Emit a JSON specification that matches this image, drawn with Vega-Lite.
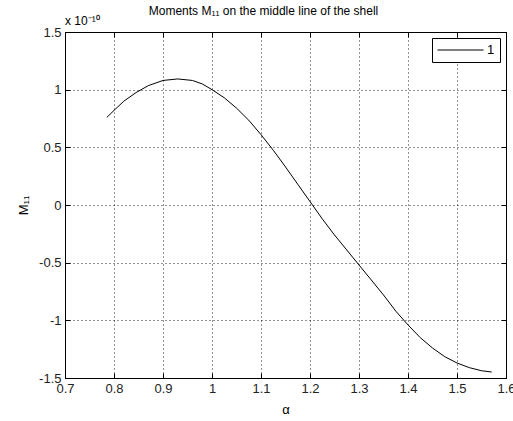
{
  "$schema": "https://vega.github.io/schema/vega-lite/v6.json",
  "width": 441,
  "height": 346,
  "autosize": {"type": "none"},
  "padding": {"left": 65, "top": 32, "right": 7, "bottom": 43},
  "background": "white",
  "config": {
    "font": "Liberation Sans",
    "view": {"stroke": "black", "strokeWidth": 1},
    "axis": {
      "domain": false,
      "grid": true,
      "gridColor": "black",
      "gridDash": [1, 3],
      "gridOpacity": 0.85,
      "tickColor": "black",
      "tickSize": -5,
      "labelPadding": 9,
      "labelFontSize": 13,
      "labelColor": "#222222",
      "labelFont": "Liberation Sans",
      "titleFont": "Liberation Sans",
      "titleFontSize": 13,
      "titleFontWeight": "normal",
      "titleColor": "black",
      "labelFlush": false,
      "labelOverlap": false
    },
    "legend": {
      "orient": "top-right",
      "offset": 6,
      "strokeColor": "black",
      "fillColor": "white",
      "padding": 5,
      "cornerRadius": 0,
      "symbolType": "stroke",
      "symbolSize": 2116,
      "symbolStrokeWidth": 1,
      "symbolStrokeColor": "black",
      "clipHeight": 14,
      "labelFontSize": 13,
      "labelFont": "Liberation Sans",
      "labelColor": "black",
      "labelOffset": 3
    }
  },
  "title": {
    "text": "Moments M₁₁ on the middle line of the shell",
    "font": "Liberation Sans",
    "fontSize": 12,
    "fontWeight": "normal",
    "color": "black",
    "anchor": "middle",
    "dx": -22,
    "offset": -3
  },
  "layer": [
    {
      "data": {
        "values": [
          {"alpha": 0.7854, "M": 0.76, "series": "1"},
          {"alpha": 0.80, "M": 0.82, "series": "1"},
          {"alpha": 0.82, "M": 0.90, "series": "1"},
          {"alpha": 0.845, "M": 0.975, "series": "1"},
          {"alpha": 0.87, "M": 1.035, "series": "1"},
          {"alpha": 0.90, "M": 1.08, "series": "1"},
          {"alpha": 0.93, "M": 1.093, "series": "1"},
          {"alpha": 0.96, "M": 1.08, "series": "1"},
          {"alpha": 0.98, "M": 1.05, "series": "1"},
          {"alpha": 1.00, "M": 1.00, "series": "1"},
          {"alpha": 1.025, "M": 0.93, "series": "1"},
          {"alpha": 1.05, "M": 0.84, "series": "1"},
          {"alpha": 1.075, "M": 0.735, "series": "1"},
          {"alpha": 1.10, "M": 0.61, "series": "1"},
          {"alpha": 1.125, "M": 0.475, "series": "1"},
          {"alpha": 1.15, "M": 0.33, "series": "1"},
          {"alpha": 1.175, "M": 0.18, "series": "1"},
          {"alpha": 1.20, "M": 0.03, "series": "1"},
          {"alpha": 1.225, "M": -0.12, "series": "1"},
          {"alpha": 1.25, "M": -0.26, "series": "1"},
          {"alpha": 1.275, "M": -0.39, "series": "1"},
          {"alpha": 1.30, "M": -0.52, "series": "1"},
          {"alpha": 1.325, "M": -0.65, "series": "1"},
          {"alpha": 1.35, "M": -0.78, "series": "1"},
          {"alpha": 1.375, "M": -0.92, "series": "1"},
          {"alpha": 1.40, "M": -1.04, "series": "1"},
          {"alpha": 1.425, "M": -1.15, "series": "1"},
          {"alpha": 1.45, "M": -1.24, "series": "1"},
          {"alpha": 1.475, "M": -1.315, "series": "1"},
          {"alpha": 1.50, "M": -1.37, "series": "1"},
          {"alpha": 1.525, "M": -1.41, "series": "1"},
          {"alpha": 1.55, "M": -1.437, "series": "1"},
          {"alpha": 1.5708, "M": -1.448, "series": "1"}
        ]
      },
      "mark": {"type": "line", "color": "black", "strokeWidth": 1},
      "encoding": {
        "x": {
          "field": "alpha",
          "type": "quantitative",
          "scale": {"domain": [0.7, 1.6], "nice": false, "zero": false},
          "axis": {
            "orient": "bottom",
            "title": "α",
            "titlePadding": 8,
            "values": [0.7, 0.8, 0.9, 1, 1.1, 1.2, 1.3, 1.4, 1.5, 1.6],
            "labelExpr": "'' + datum.value"
          }
        },
        "y": {
          "field": "M",
          "type": "quantitative",
          "scale": {"domain": [-1.5, 1.5], "nice": false, "zero": false},
          "axis": {
            "orient": "left",
            "title": "M₁₁",
            "titlePadding": 8,
            "values": [-1.5, -1, -0.5, 0, 0.5, 1, 1.5],
            "labelExpr": "'' + datum.value"
          }
        },
        "color": {
          "field": "series",
          "type": "nominal",
          "scale": {"range": ["black"]},
          "legend": {"title": null}
        }
      }
    },
    {
      "data": {"values": [{"a": 0.7, "m": 1.5, "label": "x 10⁻¹⁰"}]},
      "mark": {"type": "text", "align": "left", "baseline": "alphabetic", "dy": -7, "fontSize": 12, "font": "Liberation Sans", "color": "black"},
      "encoding": {
        "x": {
          "field": "a",
          "type": "quantitative",
          "scale": {"domain": [0.7, 1.6], "nice": false, "zero": false},
          "axis": {"orient": "top", "labels": false, "grid": false, "title": null, "values": [0.7, 0.8, 0.9, 1, 1.1, 1.2, 1.3, 1.4, 1.5, 1.6]}
        },
        "y": {
          "field": "m",
          "type": "quantitative",
          "scale": {"domain": [-1.5, 1.5], "nice": false, "zero": false},
          "axis": {"orient": "right", "labels": false, "grid": false, "title": null, "values": [-1.5, -1, -0.5, 0, 0.5, 1, 1.5]}
        },
        "text": {"field": "label"}
      }
    }
  ],
  "resolve": {"axis": {"x": "independent", "y": "independent"}}
}
